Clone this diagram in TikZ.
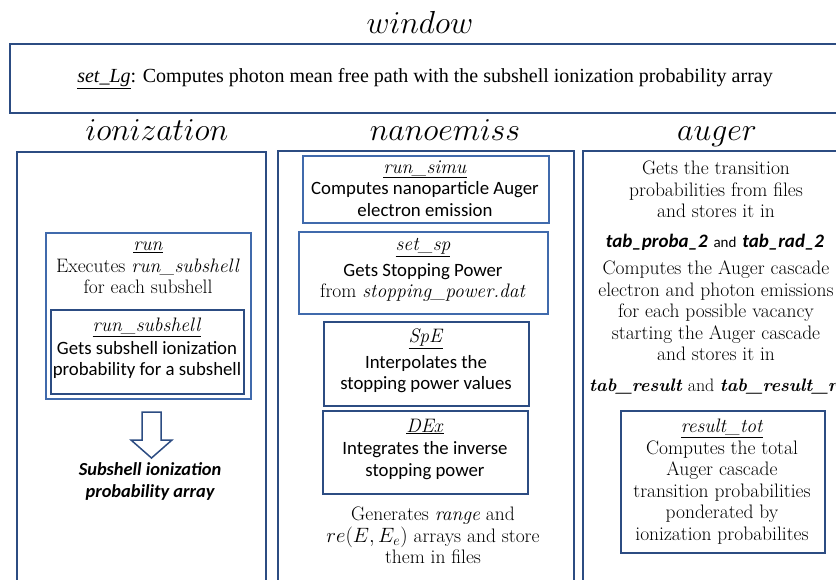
\documentclass[tikz,border=0pt]{standalone}
\usepackage{fontspec}
\newfontfamily\sfc{Carlito}
\newfontfamily\tms{Liberation Serif}
\definecolor{bdark}{RGB}{44,76,130}
\definecolor{bmid}{RGB}{64,106,172}
\newcommand\fnm[1]{\underline{\textit{#1}}}
\newcommand\ttl[1]{\scalebox{1.28}{$#1$}}
\begin{document}
\begin{tikzpicture}[x=1pt,y=-1pt,
  frame/.style={draw=bdark, line width=2.2pt},
  subbox/.style={draw=#1, line width=1.7pt, inner sep=0pt},
  title/.style={anchor=base, inner sep=0pt, font=\fontsize{24.88}{26}\selectfont},
  txt/.style={align=center, inner sep=0pt, font=\fontsize{19.5}{21.5}\selectfont},
]
\useasboundingbox (0,0) rectangle (836,579);
\clip (0,0) rectangle (836,579);
\fill[white] (0,0) rectangle (836,579);

% window
\node[title] (twin) at (420,33) {\ttl{window}};
\node[frame, draw, line width=2.8pt, minimum width=840, minimum height=69, inner sep=0pt] (winbox) at (430,78.5) {};
\node[align=center, inner sep=0pt, font=\tms\fontsize{20}{22}\selectfont] (setlg) at (425,79)
  {\fnm{set\_Lg}: Computes photon mean free path with the subshell ionization probability array};

% ionization column
\node[title] (tion) at (157,140) {\ttl{ionization}};
\node[frame, draw, minimum width=249, minimum height=470, inner sep=0pt, anchor=north west] (ionbox) at (16,151) {};
\node[subbox=bmid, minimum width=205, minimum height=166, anchor=north west] (runbox) at (45,232) {};
\node[txt] (runtxt) at (148,268) {\fnm{run}\\ Executes \textit{run\_subshell}\\ for each subshell};
\node[subbox=bdark, minimum width=193, minimum height=84, anchor=north west] (rsbox) at (50,309) {};
\node[txt] (rstxt) at (147,348.5) {\fnm{run\_subshell}\\[1pt] {\sfc\fontsize{18.8}{21.5}\selectfont Gets subshell ionization}\\ {\sfc\fontsize{18.8}{21.5}\selectfont probability for a subshell}};
\draw[draw=bdark, line width=1.5pt, fill=white, line join=miter]
  (142,412) -- (161,412) -- (161,440) -- (172,440) -- (151.5,458) -- (131,440) -- (142,440) -- cycle;
\coordinate (arrtip) at (151.5,458);
\node[align=center, inner sep=0pt, font=\sfc\bfseries\itshape\fontsize{18.4}{22}\selectfont] (sipa) at (150,481)
  {Subshell ionization\\ probability array};

% nanoemiss column
\node[title] (tnano) at (445,140) {\ttl{nanoemiss}};
\node[frame, draw, minimum width=296, minimum height=460, inner sep=0pt, anchor=north west] (nanobox) at (277,150) {};
\node[subbox=bmid, minimum width=246, minimum height=67, anchor=north west] (simubox) at (302,155) {};
\node[txt] (simutxt) at (425,188.5) {\fnm{run\_simu}\\ {\sfc\fontsize{18.8}{21.5}\selectfont Computes nanoparticle Auger}\\ {\sfc\fontsize{18.8}{21.5}\selectfont electron emission}};
\node[subbox=bmid, minimum width=249, minimum height=82, anchor=north west] (spbox) at (298,231) {};
\node[txt] (sptxt) at (423,270) {\fnm{set\_sp}\\[4pt] {\sfc\fontsize{18.8}{21.5}\selectfont Gets Stopping Power}\\ from \textit{stopping\_power.dat}};
\node[subbox=bdark, minimum width=205, minimum height=84, anchor=north west] (spebox) at (323,321) {};
\node[txt] (spetxt) at (426,361) {\fnm{SpE}\\[4pt] {\sfc\fontsize{18.8}{21.5}\selectfont Interpolates the}\\ {\sfc\fontsize{18.8}{21.5}\selectfont stopping power values}};
\node[subbox=bdark, minimum width=205, minimum height=83, anchor=north west] (dexbox) at (322,410) {};
\node[txt] (dextxt) at (425,449) {\fnm{DEx}\\[1pt] {\sfc\fontsize{18.8}{21.5}\selectfont Integrates the inverse}\\ {\sfc\fontsize{18.8}{21.5}\selectfont stopping power}};
\node[txt] (gentxt) at (433,535.5) {Generates \textit{range} and\\ $re(E,E_e)$ arrays and store\\ them in files};

% auger column
\node[title] (taug) at (717,140) {\ttl{auger}};
\node[frame, draw, minimum width=268, minimum height=460, inner sep=0pt, anchor=north west] (augbox) at (582,150) {};
\node[txt] (augt1) at (716,189.5) {Gets the transition\\ probabilities from files\\ and stores it in};
\node[txt] (augt2) at (715,242) {{\sfc\bfseries\itshape\fontsize{19}{21}\selectfont tab\_proba\_2} {\sfc\fontsize{15}{17}\selectfont and} {\sfc\bfseries\itshape\fontsize{19}{21}\selectfont tab\_rad\_2}};
\node[txt] (augt3) at (716,311) {Computes the Auger cascade\\ electron and photon emissions\\ for each possible vacancy\\ starting the Auger cascade\\ and stores it in};
\node[txt, anchor=west, font=\fontsize{18}{21.5}\selectfont] (augt4) at (589,387) {\textbf{\textit{tab\_result}} and \textbf{\textit{tab\_result\_rad}}};
\node[subbox=bdark, minimum width=204, minimum height=142, anchor=north west] (totbox) at (620,410) {};
\node[txt] (tottxt) at (722,481.5) {\fnm{result\_tot}\\ Computes the total\\ Auger cascade\\ transition probabilities\\ ponderated by\\ ionization probabilites};
\end{tikzpicture}
\end{document}
